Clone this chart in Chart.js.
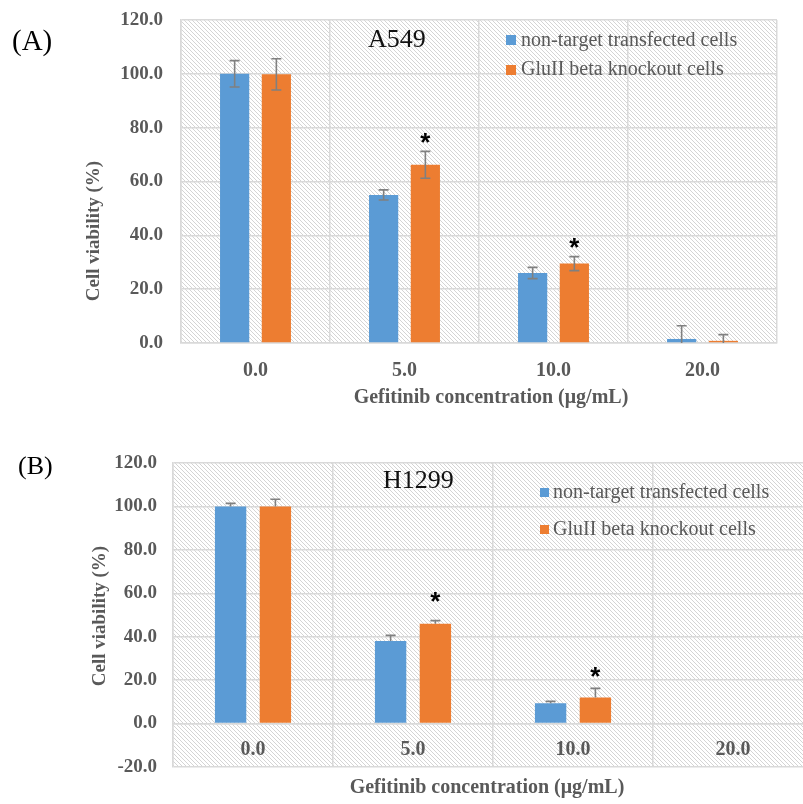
<!DOCTYPE html>
<html>
<head>
<meta charset="utf-8">
<script src="https://cdn.jsdelivr.net/npm/chart.js@4.4.0/dist/chart.umd.min.js"></script>
<style>
  html, body { margin: 0; padding: 0; background: #fff; }
  #page { position: relative; width: 803px; height: 804px; overflow: hidden;
          font-family: "Liberation Serif", "Times New Roman", serif; }
  canvas { position: absolute; left: 0; }
  .txt { position: absolute; white-space: nowrap; line-height: 1; }
  .panel { color: #000; }
  .title { color: #111; font-size: 26px; }
  .axis { color: #595959; font-weight: bold; transform: translate(-50%, -50%); }
  .ytitle { transform: translate(-50%, -50%) rotate(-90deg); }
  .sw { position: absolute; }
  .leg { color: #595959; font-size: 20px; }
</style>
</head>
<body>
<div id="page">
  <canvas id="chartA" width="803" height="420" style="top:0"></canvas>
  <canvas id="chartB" width="830" height="384" style="top:420px"></canvas>

  <div class="txt panel" style="left:12px;top:25.5px;font-size:29px">(A)</div>
  <div class="txt panel" style="left:18px;top:453px;font-size:26px">(B)</div>
  <div class="txt title" style="left:368px;top:26px">A549</div>
  <div class="txt title" style="left:383px;top:467px">H1299</div>

  <div class="txt axis ytitle" style="left:92px;top:231px;font-size:19px">Cell viability (%)</div>
  <div class="txt axis ytitle" style="left:98px;top:616px;font-size:19px">Cell viability (%)</div>
  <div class="txt axis" style="left:491px;top:396px;font-size:20px">Gefitinib concentration (μg/mL)</div>
  <div class="txt axis" style="left:487px;top:786px;font-size:20px">Gefitinib concentration (μg/mL)</div>
  <div id="legendA"></div>
  <div id="legendB"></div>
</div>

<script>
// categories + series
const categories = ["0.0", "5.0", "10.0", "20.0"];
const seriesNames = ["non-target transfected cells", "GluII beta knockout cells"];
const seriesColors = ["#5b9bd5", "#ed7d31"];

// (A) A549
const a549Control = [100.0, 55.0, 26.0, 1.5];
const a549Knockout = [99.8, 66.2, 29.5, 0.8];
const a549ControlErr = [4.9, 1.9, 2.1, 4.9];
const a549KnockoutErr = [5.8, 5.0, 2.6, 2.3];
const a549Stars = [null, 76.0, 37.3, null];   // y value of the "*" over knockout bar

// (B) H1299
const h1299Control = [100.0, 38.0, 9.4, 0];
const h1299Knockout = [100.0, 46.0, 12.0, 0];
const h1299ControlErr = [1.4, 2.6, 0.8, 0];
const h1299KnockoutErr = [3.3, 1.4, 4.2, 0];
const h1299Stars = [null, 58.3, 23.8, null];

// y axis ranges (ticks every 20, one decimal)
const yRangeA = [0, 120];
const yRangeB = [-20, 120];
const yStep = 20;

const GRID = "#d9d9d9";
const LABEL = "#595959";

function hatchPattern(ctx) {
  const c = document.createElement("canvas");
  c.width = 4; c.height = 4;
  const g = c.getContext("2d");
  g.fillStyle = "#fff";
  g.fillRect(0, 0, 4, 4);
  g.fillStyle = "#d4d4d4";
  for (let i = 0; i < 4; i++) g.fillRect(i, i, 1, 1);
  return ctx.createPattern(c, "repeat");
}

const hatch = {
  id: "hatch",
  beforeDraw(chart) {
    const { ctx, chartArea: a } = chart;
    ctx.save();
    ctx.fillStyle = hatchPattern(ctx);
    ctx.fillRect(a.left, a.top, a.right - a.left, a.bottom - a.top);
    ctx.restore();
  }
};

// error bars (Excel style, grey with caps)
const errorBars = {
  id: "errorBars",
  afterDatasetsDraw(chart, args, opts) {
    const { ctx, chartArea: a } = chart;
    const y = chart.scales.y;
    ctx.save();
    ctx.beginPath();
    ctx.rect(a.left, a.top, a.right - a.left, y.getPixelForValue(0) - a.top);
    ctx.clip();
    ctx.strokeStyle = "#808080";
    ctx.lineWidth = 1.6;
    chart.data.datasets.forEach((ds, i) => {
      const errs = opts.errors[i];
      chart.getDatasetMeta(i).data.forEach((bar, j) => {
        const e = errs[j];
        if (!e) return;
        const v = ds.data[j];
        const top = y.getPixelForValue(v + e);
        const bot = opts.plusOnly ? bar.y : y.getPixelForValue(v - e);
        ctx.beginPath();
        ctx.moveTo(bar.x, top);
        ctx.lineTo(bar.x, bot);
        ctx.moveTo(bar.x - 5, top);
        ctx.lineTo(bar.x + 5, top);
        if (!opts.plusOnly) {
          ctx.moveTo(bar.x - 5, bot);
          ctx.lineTo(bar.x + 5, bot);
        }
        ctx.stroke();
      });
    });
    ctx.restore();
  }
};

// significance stars over the knockout bars
const stars = {
  id: "stars",
  afterDatasetsDraw(chart, args, opts) {
    const { ctx } = chart;
    const y = chart.scales.y;
    const bars = chart.getDatasetMeta(1).data;
    ctx.save();
    ctx.fillStyle = "#000";
    ctx.font = "bold 26px 'Liberation Sans', Arial, sans-serif";
    ctx.textAlign = "center";
    ctx.textBaseline = "alphabetic";
    const m = ctx.measureText("*");
    const shift = (m.actualBoundingBoxAscent - m.actualBoundingBoxDescent) / 2;
    opts.values.forEach((v, j) => {
      if (v == null) return;
      ctx.fillText("*", bars[j].x, y.getPixelForValue(v) + shift);
    });
    ctx.restore();
  }
};

function makeChart(id, cfg) {
  const x = {
    grid: { color: GRID, lineWidth: 1.5, drawTicks: false },
    border: { color: GRID, width: 1.5 },
    ticks: { color: LABEL, font: { family: "'Liberation Serif'", size: 20, weight: "bold" },
             padding: cfg.xTickPad, maxRotation: 0 }
  };
  if (cfg.xAtZero) x.position = { y: 0 };
  else x.afterFit = s => { s.height = cfg.xHeight; };

  return new Chart(document.getElementById(id), {
    type: "bar",
    data: {
      labels: categories,
      datasets: [
        { label: seriesNames[0], data: cfg.control, backgroundColor: seriesColors[0], borderWidth: 0,
          categoryPercentage: 0.56, barPercentage: 0.7 },
        { label: seriesNames[1], data: cfg.knockout, backgroundColor: seriesColors[1], borderWidth: 0,
          categoryPercentage: 0.56, barPercentage: 0.7 }
      ]
    },
    options: {
      responsive: false,
      animation: false,
      devicePixelRatio: 1,
      events: [],
      layout: { padding: cfg.padding },
      plugins: {
        legend: { display: false },
        tooltip: { enabled: false },
        errorBars: { errors: cfg.errors, plusOnly: cfg.plusOnly },
        stars: { values: cfg.stars }
      },
      scales: {
        x,
        y: {
          min: cfg.yRange[0],
          max: cfg.yRange[1],
          grid: { color: GRID, lineWidth: 1.5, drawTicks: false },
          border: { color: GRID, width: 1.5 },
          ticks: { stepSize: yStep, color: LABEL, padding: cfg.yTickPad,
                   font: { family: "'Liberation Serif'", size: 19, weight: "bold" },
                   callback: v => v.toFixed(1) },
          afterFit: s => {
            s.width = cfg.yWidth;
            s.paddingTop = 0;
            s.paddingBottom = 0;
          }
        }
      }
    },
    plugins: [hatch, errorBars, stars]
  });
}

function htmlLegend(chart, el, pos) {
  chart.data.datasets.forEach((ds, i) => {
    const sw = document.createElement("div");
    sw.className = "sw";
    sw.style.cssText = `left:${pos.swLeft}px;top:${pos.swTops[i]}px;width:${pos.sw}px;height:${pos.sw}px;background:${ds.backgroundColor}`;
    const t = document.createElement("div");
    t.className = "txt leg";
    t.style.cssText = `left:${pos.textLeft}px;top:${pos.textTops[i]}px`;
    t.textContent = ds.label;
    el.appendChild(sw);
    el.appendChild(t);
  });
}

const chartA = makeChart("chartA", {
  control: a549Control, knockout: a549Knockout,
  errors: [a549ControlErr, a549KnockoutErr], plusOnly: false, stars: a549Stars,
  yRange: yRangeA, padding: { top: 20, right: 26, left: 0, bottom: 0 },
  yWidth: 181, yTickPad: 18, xHeight: 77, xTickPad: 16
});

const chartB = makeChart("chartB", {
  control: h1299Control, knockout: h1299Knockout,
  errors: [h1299ControlErr, h1299KnockoutErr], plusOnly: true, stars: h1299Stars,
  yRange: yRangeB, padding: { top: 43, right: 17, left: 0, bottom: 37 },
  yWidth: 173, yTickPad: 16, xAtZero: true, xTickPad: 14
});

htmlLegend(chartA, document.getElementById("legendA"),
  { swLeft: 506, sw: 10, swTops: [35, 65], textLeft: 521, textTops: [29.3, 58.3] });
htmlLegend(chartB, document.getElementById("legendB"),
  { swLeft: 540, sw: 9, swTops: [488, 525], textLeft: 553, textTops: [480.8, 518.3] });
</script>
</body>
</html>
